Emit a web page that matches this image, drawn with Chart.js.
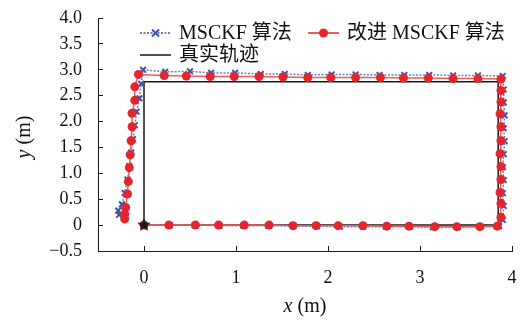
<!DOCTYPE html>
<html>
<head>
<meta charset="utf-8">
<script src="https://cdn.jsdelivr.net/npm/chart.js@4.4.0/dist/chart.umd.min.js"></script>
<style>
  html, body { margin: 0; padding: 0; background: #fff; }
</style>
</head>
<body>
<canvas id="trackChart" width="520" height="320"></canvas>
<script>
// Tick labels
const X_TICKS = [0, 1, 2, 3, 4];
const Y_TICKS = [-0.5, 0, 0.5, 1.0, 1.5, 2.0, 2.5, 3.0, 3.5, 4.0];

// Series names
const SERIES_NAMES = ['MSCKF 算法', '改进 MSCKF 算法', '真实轨迹'];

// 真实轨迹
const TRUE_X = [0, 3.85, 3.85, 0, 0];
const TRUE_Y = [0, 0, 2.77, 2.77, 0];

// MSCKF 算法 (bottom -> right -> top -> left)
const MSCKF_X = [0, 0.28, 0.55, 0.82, 1.08, 1.35, 1.62, 1.88, 2.13, 2.38, 2.63, 2.89, 3.14, 3.41, 3.66, 3.86,
  3.90, 3.91, 3.90, 3.91, 3.90, 3.91, 3.92, 3.91, 3.92, 3.91, 3.91, 3.90,
  3.63, 3.36, 3.10, 2.83, 2.56, 2.30, 2.04, 1.78, 1.53, 1.27, 0.99, 0.73, 0.50, 0.23, -0.01,
  -0.03, -0.05, -0.08, -0.10, -0.12, -0.14, -0.16, -0.18, -0.21, -0.24, -0.28, -0.27];
const MSCKF_Y = [0, 0, 0, -0.01, -0.01, -0.01, -0.02, -0.02, -0.03, -0.03, -0.03, -0.03, -0.04, -0.04, -0.03, -0.02,
  0.10, 0.37, 0.62, 0.87, 1.12, 1.37, 1.62, 1.87, 2.12, 2.37, 2.62, 2.88,
  2.89, 2.89, 2.90, 2.90, 2.90, 2.91, 2.91, 2.90, 2.92, 2.92, 2.94, 2.94, 2.97, 2.96, 3.00,
  2.73, 2.45, 2.19, 1.93, 1.66, 1.40, 1.14, 0.88, 0.62, 0.40, 0.28, 0.20];

// 改进 MSCKF 算法
const IMPROVED_X = [0, 0.27, 0.56, 0.81, 1.09, 1.36, 1.62, 1.87, 2.11, 2.38, 2.64, 2.88, 3.16, 3.40, 3.65, 3.84,
  3.88, 3.88, 3.87, 3.88, 3.88, 3.87, 3.88, 3.88, 3.87, 3.88, 3.88, 3.88,
  3.63, 3.36, 3.09, 2.82, 2.57, 2.30, 2.03, 1.78, 1.51, 1.25, 0.98, 0.72, 0.46, 0.22, -0.06,
  -0.10, -0.10, -0.13, -0.13, -0.14, -0.15, -0.16, -0.17, -0.18, -0.20, -0.21, -0.21];
const IMPROVED_Y = [0, 0, 0, 0, 0, 0, -0.01, -0.01, -0.01, -0.01, -0.02, -0.02, -0.03, -0.03, -0.03, -0.02,
  0.15, 0.42, 0.63, 0.88, 1.13, 1.38, 1.63, 1.90, 2.15, 2.38, 2.60, 2.82,
  2.83, 2.83, 2.84, 2.84, 2.85, 2.85, 2.85, 2.85, 2.86, 2.87, 2.87, 2.87, 2.88, 2.89, 2.91,
  2.67, 2.41, 2.16, 1.90, 1.63, 1.36, 1.11, 0.84, 0.60, 0.34, 0.21, 0.12];

// Start point (star)
const START_X = [0];
const START_Y = [0];

const BLUE = '#3a55a6';
const BLUE_LINE = '#6a80c4';
const RED = '#e2262d';
const RED_LINE = '#ee5c5c';
const BLACK = '#1a1a1a';
const SERIF = '"Liberation Serif", "Times New Roman", "Noto Sans CJK SC", serif';

function zip(xs, ys) {
    return xs.map((x, i) => ({ x: x, y: ys[i] }));
}

// Filled five-point star used as the start marker
function starImage(r) {
    const c = document.createElement('canvas');
    c.width = c.height = 2 * r + 2;
    const g = c.getContext('2d');
    g.beginPath();
    for (let i = 0; i < 10; i++) {
        const a = -Math.PI / 2 + i * Math.PI / 5;
        const rr = i % 2 ? r * 0.45 : r;
        g.lineTo(r + 1 + rr * Math.cos(a), r + 1 + rr * Math.sin(a));
    }
    g.closePath();
    g.fillStyle = BLACK;
    g.fill();
    return c;
}

// Legend and axis titles drawn by hand so they can sit inside the plot
const overlayPlugin = {
    id: 'overlay',
    afterDraw(chart) {
        const ctx = chart.ctx;
        const area = chart.chartArea;
        ctx.save();

        // legend
        ctx.font = '20px ' + SERIF;
        ctx.textBaseline = 'middle';
        ctx.fillStyle = '#111';
        const items = [
            { x: 140, y: 33, kind: 'blue' },
            { x: 308, y: 33, kind: 'red' },
            { x: 140, y: 55, kind: 'black' }
        ];
        items.forEach((it, i) => {
            const x0 = it.x, x1 = it.x + 31, y = it.y;
            ctx.save();
            ctx.beginPath();
            ctx.moveTo(x0, y);
            ctx.lineTo(x1, y);
            if (it.kind === 'blue') {
                ctx.strokeStyle = BLUE_LINE; ctx.lineWidth = 2; ctx.setLineDash([2, 1.5]);
            } else if (it.kind === 'red') {
                ctx.strokeStyle = RED_LINE; ctx.lineWidth = 2;
            } else {
                ctx.strokeStyle = BLACK; ctx.lineWidth = 1.5;
            }
            ctx.stroke();
            ctx.setLineDash([]);
            const mx = (x0 + x1) / 2;
            if (it.kind === 'blue') {
                ctx.strokeStyle = BLUE; ctx.lineWidth = 2;
                ctx.beginPath();
                ctx.moveTo(mx - 3.5, y - 3.5); ctx.lineTo(mx + 3.5, y + 3.5);
                ctx.moveTo(mx + 3.5, y - 3.5); ctx.lineTo(mx - 3.5, y + 3.5);
                ctx.stroke();
            } else if (it.kind === 'red') {
                ctx.fillStyle = RED;
                ctx.beginPath();
                ctx.arc(mx, y, 4.5, 0, Math.PI * 2);
                ctx.fill();
            }
            ctx.restore();
            ctx.fillText(SERIES_NAMES[i], x1 + 8, y + 1);
        });

        // x axis title, italic variable
        const rest = ' (m)';
        ctx.font = 'italic 20px ' + SERIF;
        const wi = ctx.measureText('x').width;
        ctx.font = '20px ' + SERIF;
        const wr = ctx.measureText(rest).width;
        const cx = (area.left + area.right) / 2 - (wi + wr) / 2;
        ctx.textAlign = 'left';
        ctx.font = 'italic 20px ' + SERIF;
        ctx.fillText('x', cx, 307);
        ctx.font = '20px ' + SERIF;
        ctx.fillText(rest, cx + wi, 307);

        // y axis title
        ctx.translate(25, 137);
        ctx.rotate(-Math.PI / 2);
        ctx.font = 'italic 20px ' + SERIF;
        const wyi = ctx.measureText('y').width;
        const cy = -(wyi + wr) / 2;
        ctx.fillText('y', cy, 0);
        ctx.font = '20px ' + SERIF;
        ctx.fillText(rest, cy + wyi, 0);

        ctx.restore();
    }
};

const ctx = document.getElementById('trackChart').getContext('2d');
const trackChart = new Chart(ctx, {
    type: 'scatter',
    data: {
        datasets: [
            {
                label: 'start',
                data: zip(START_X, START_Y),
                pointStyle: starImage(7),
                pointRadius: 7,
                order: 0
            },
            {
                label: SERIES_NAMES[1],
                data: zip(IMPROVED_X, IMPROVED_Y),
                showLine: true,
                borderColor: RED_LINE,
                borderWidth: 1.5,
                pointStyle: 'circle',
                pointRadius: 4.5,
                pointBackgroundColor: RED,
                pointBorderColor: RED,
                pointBorderWidth: 0,
                order: 1
            },
            {
                label: SERIES_NAMES[0],
                data: zip(MSCKF_X, MSCKF_Y),
                showLine: true,
                borderColor: BLUE_LINE,
                borderWidth: 1.5,
                borderDash: [2, 1.5],
                pointStyle: 'crossRot',
                pointRadius: 4,
                pointBorderColor: BLUE,
                pointBorderWidth: 2,
                order: 2
            },
            {
                label: SERIES_NAMES[2],
                data: zip(TRUE_X, TRUE_Y),
                showLine: true,
                borderColor: BLACK,
                borderWidth: 1.5,
                pointRadius: 0,
                order: 3
            }
        ]
    },
    options: {
        responsive: false,
        animation: false,
        layout: { padding: { top: 18, right: 6, left: 0, bottom: 0 } },
        plugins: {
            legend: { display: false },
            tooltip: { enabled: false }
        },
        scales: {
            x: {
                type: 'linear',
                min: -0.5,
                max: 4,
                afterBuildTicks: s => { s.ticks = X_TICKS.map(v => ({ value: v })); },
                afterFit: s => { s.height = 69; s.paddingLeft = 0; s.paddingRight = 0; },
                border: { display: true, color: BLACK, width: 1 },
                grid: { display: true, drawOnChartArea: false, drawTicks: true, tickLength: -5, color: BLACK },
                ticks: {
                    padding: 21,
                    color: '#111',
                    font: { family: SERIF, size: 18 },
                    callback: v => String(v)
                }
            },
            y: {
                type: 'linear',
                min: -0.5,
                max: 4,
                afterBuildTicks: s => { s.ticks = Y_TICKS.map(v => ({ value: v })); },
                afterFit: s => { s.width = 98; s.paddingTop = 0; s.paddingBottom = 0; },
                border: { display: true, color: BLACK, width: 1 },
                grid: { display: true, drawOnChartArea: false, drawTicks: true, tickLength: -5, color: BLACK },
                ticks: {
                    padding: 21,
                    color: '#111',
                    font: { family: SERIF, size: 18 },
                    callback: v => v === 0 ? '0' : v.toFixed(1).replace('-', '\u2212')
                }
            }
        }
    },
    plugins: [overlayPlugin]
});
</script>
</body>
</html>
